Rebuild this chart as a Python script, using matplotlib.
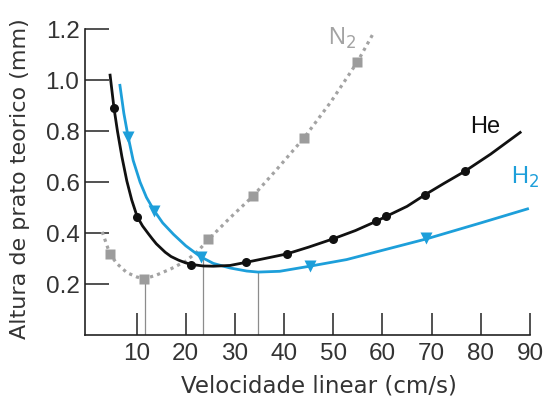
import matplotlib
matplotlib.use("Agg")
import matplotlib.pyplot as plt

plt.rcParams['font.family'] = ['Liberation Sans', 'DejaVu Sans']

# He curve (read points) and markers
he_curve_x = [4.6, 5.4, 6.1, 7.0, 8.0, 9.0, 10.1, 11.2, 12.4, 13.2, 14.0, 15.8, 17.0, 18.5, 20.0, 21.1, 23.5, 25.6, 29.0,
              32.2, 36.0, 40.5, 45.0, 49.9, 54.5, 58.7, 60.8, 65.0, 68.7, 72.5, 76.7, 82.0, 88.0]
he_curve_y = [1.02, 0.89, 0.80, 0.70, 0.605, 0.53, 0.465, 0.428, 0.397, 0.377, 0.358, 0.325, 0.308, 0.294, 0.283, 0.277, 0.271, 0.270, 0.273,
              0.285, 0.30, 0.318, 0.345, 0.377, 0.41, 0.446, 0.466, 0.505, 0.551, 0.595, 0.642, 0.71, 0.795]
he_pts_x = [5.4, 10.1, 21.1, 32.2, 40.5, 49.9, 58.7, 60.8, 68.7, 76.7]
he_pts_y = [0.89, 0.465, 0.276, 0.285, 0.318, 0.377, 0.446, 0.466, 0.551, 0.642]

# H2 curve and markers
h2_curve_x = [6.6, 7.4, 8.2, 9.3, 10.7, 12.0, 13.6, 15.3, 17.5, 20.0, 23.0, 25.6, 29.0, 32.4, 34.7, 39.1,
              45.2, 52.7, 59.5, 68.9, 80.0, 89.5]
h2_curve_y = [0.98, 0.87, 0.785, 0.685, 0.60, 0.54, 0.487, 0.44, 0.395, 0.35, 0.307, 0.281, 0.263, 0.251, 0.247, 0.25,
              0.27, 0.296, 0.33, 0.377, 0.44, 0.495]
h2_pts_x = [8.2, 13.6, 23.0, 45.2, 68.9]
h2_pts_y = [0.776, 0.487, 0.307, 0.27, 0.38]

# N2 curve and markers
n2_curve_x = [3.0, 4.6, 6.0, 8.0, 10.0, 11.5, 14.0, 17.0, 20.0, 22.5, 24.6, 29.0, 33.6, 38.5, 44.1,
              49.5, 54.9, 58.3]
n2_curve_y = [0.405, 0.316, 0.28, 0.245, 0.228, 0.22, 0.235, 0.26, 0.29, 0.33, 0.375, 0.46, 0.544, 0.65, 0.775,
              0.915, 1.072, 1.19]
n2_pts_x = [4.6, 11.5, 24.6, 33.6, 44.1, 54.9]
n2_pts_y = [0.316, 0.22, 0.375, 0.544, 0.775, 1.072]

# optimum velocity drop lines
opt_x = [11.7, 23.4, 34.7]
opt_y = [0.22, 0.305, 0.246]

x_ticks = [10, 20, 30, 40, 50, 60, 70, 80, 90]
y_ticks = [0.2, 0.4, 0.6, 0.8, 1.0, 1.2]

BLUE = '#1d9fda'
GRAY = '#a3a3a3'
TXT = '#333333'

fig = plt.figure(figsize=(5.46, 4.01), dpi=100)
ax = fig.add_axes([0.1557, 0.1646, 0.8150, 0.7624])

for xv, yv in zip(opt_x, opt_y):
    ax.plot([xv, xv], [0, yv], color='#8c8c8c', lw=0.9, zorder=1)

ax.plot(n2_curve_x, n2_curve_y, color=GRAY, lw=2.3, linestyle=(0, (1, 1.3)), zorder=2)
ax.plot(n2_pts_x, n2_pts_y, 's', color='#9c9c9c', ms=6.5, mec='none', zorder=3)

ax.plot(h2_curve_x, h2_curve_y, color=BLUE, lw=2.0, zorder=4)
ax.plot(h2_pts_x, h2_pts_y, 'v', color=BLUE, ms=8.5, mec='none', zorder=5)

ax.plot(he_curve_x, he_curve_y, color='#111111', lw=2.0, zorder=6)
ax.plot(he_pts_x, he_pts_y, 'o', color='#111111', ms=6.5, mec='none', zorder=7)

ax.text(51.8, 1.165, 'N$_2$', color=GRAY, fontsize=17, ha='center', va='center')
ax.text(80.8, 0.815, 'He', color='#111111', fontsize=17, ha='center', va='center')
ax.text(89.0, 0.62, 'H$_2$', color=BLUE, fontsize=17, ha='center', va='center')

ax.set_xlim(-0.5, 90)
ax.set_ylim(0, 1.2)
ax.spines['top'].set_visible(False)
ax.spines['right'].set_visible(False)
for s in ('left', 'bottom'):
    ax.spines[s].set_linewidth(1.2)
    ax.spines[s].set_color('#222222')

ax.set_xticks(x_ticks)
ax.set_xticklabels([str(v) for v in x_ticks])
ax.set_yticks(y_ticks)
ax.set_yticklabels(['%.1f' % v for v in y_ticks])
ax.tick_params(axis='x', direction='in', length=15.6, width=1.1, color='#222222',
               labelsize=17.5, labelcolor=TXT, pad=6)
ax.tick_params(axis='y', direction='in', length=17.3, width=1.1, color='#222222',
               labelsize=17.5, labelcolor=TXT, pad=4)

ax.set_xlabel('Velocidade linear (cm/s)', fontsize=16.5, color=TXT, family='DejaVu Sans')
ax.set_ylabel('Altura de prato teorico (mm)', fontsize=16.0, color=TXT, family='DejaVu Sans')
ax.xaxis.set_label_coords(0.525, -0.128)
ax.yaxis.set_label_coords(-0.124, 0.51)

fig.savefig('out.png', dpi=100)
